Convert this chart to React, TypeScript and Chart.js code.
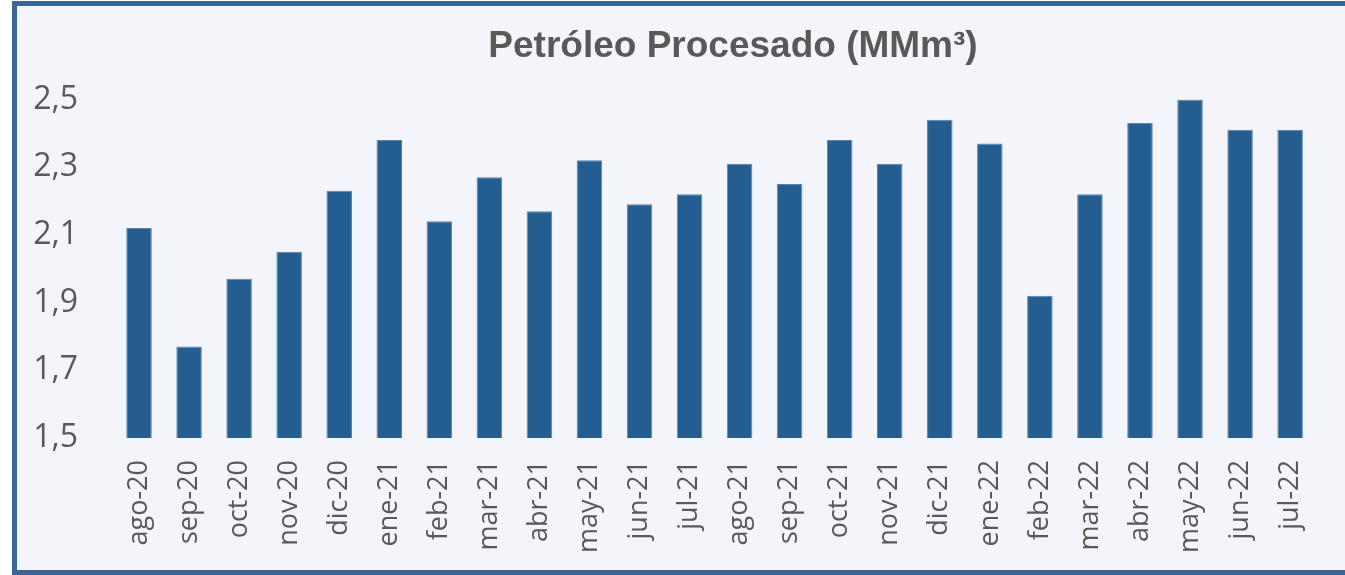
import React, { useEffect, useRef } from "react";
import { Chart, registerables } from "chart.js";

Chart.register(...registerables);

const categories = [
  "ago-20", "sep-20", "oct-20", "nov-20", "dic-20", "ene-21", "feb-21", "mar-21",
  "abr-21", "may-21", "jun-21", "jul-21", "ago-21", "sep-21", "oct-21", "nov-21",
  "dic-21", "ene-22", "feb-22", "mar-22", "abr-22", "may-22", "jun-22", "jul-22",
];

const petroleoProcesado = [
  2.12, 1.77, 1.97, 2.05, 2.23, 2.38, 2.14, 2.27,
  2.17, 2.32, 2.19, 2.22, 2.31, 2.25, 2.38, 2.31,
  2.44, 2.37, 1.92, 2.22, 2.43, 2.50, 2.41, 2.41,
];

const yTickValues = [1.5, 1.7, 1.9, 2.1, 2.3, 2.5];

const titleText = "Petróleo Procesado (MMm³)";

const shiftTitle = {
  id: "shiftTitle",
  afterLayout(chart: any) {
    const tb = chart.titleBlock;
    if (tb) {
      tb.left = 144;
      tb.right = 1322;
    }
  },
};

export default function App() {
  const ref = useRef<HTMLCanvasElement | null>(null);

  useEffect(() => {
    if (!ref.current) return;
    const chart = new Chart(ref.current, {
      type: "bar",
      data: {
        labels: categories,
        datasets: [
          {
            data: petroleoProcesado,
            backgroundColor: "#245e90",
            borderColor: "#5c84ad",
            borderWidth: 1,
            categoryPercentage: 1,
            barPercentage: 0.51,
          },
        ],
      },
      plugins: [shiftTitle],
      options: {
        animation: false,
        responsive: false,
        maintainAspectRatio: false,
        layout: { padding: { left: 0, right: 23, top: 0, bottom: 0 } },
        plugins: {
          legend: { display: false },
          tooltip: { enabled: false },
          title: {
            display: true,
            text: titleText,
            color: "#595959",
            font: { family: "Liberation Sans, Arial, sans-serif", size: 37, weight: "bold" },
            padding: { top: 25, bottom: 30 },
          },
        },
        scales: {
          x: {
            grid: { display: false, drawTicks: false },
            border: { display: false },
            ticks: {
              color: "#595959",
              font: { family: "Open Sans, sans-serif", size: 27 },
              minRotation: 90,
              maxRotation: 90,
              padding: 22,
              autoSkip: false,
            },
            afterFit: (s: any) => {
              s.height = 137;
            },
          },
          y: {
            min: 1.5,
            max: 2.5,
            grid: { display: false, drawTicks: false },
            border: { display: false },
            afterBuildTicks: (s: any) => {
              s.ticks = yTickValues.map((v) => ({ value: v }));
            },
            ticks: {
              color: "#595959",
              font: { family: "Open Sans, sans-serif", size: 32 },
              padding: 36,
              callback: (v: any) => Number(v).toFixed(1).replace(".", ","),
            },
            afterFit: (s: any) => {
              s.width = 114;
            },
          },
        },
      },
    });
    return () => chart.destroy();
  }, []);

  return (
    <div style={{ position: "fixed", left: 0, top: 0, width: 1345, height: 575, background: "#ffffff", overflow: "hidden" }}>
      <div
        style={{
          position: "absolute",
          left: 12,
          top: 1,
          width: 1400,
          height: 564,
          background: "#f4f5fa",
          borderLeft: "5px solid #3b6597",
          borderTop: "5px solid #3b6597",
          borderBottom: "5px solid #3b6597",
        }}
      />
      <canvas ref={ref} width={1345} height={575} style={{ position: "absolute", left: 0, top: 0, width: 1345, height: 575 }} />
    </div>
  );
}
